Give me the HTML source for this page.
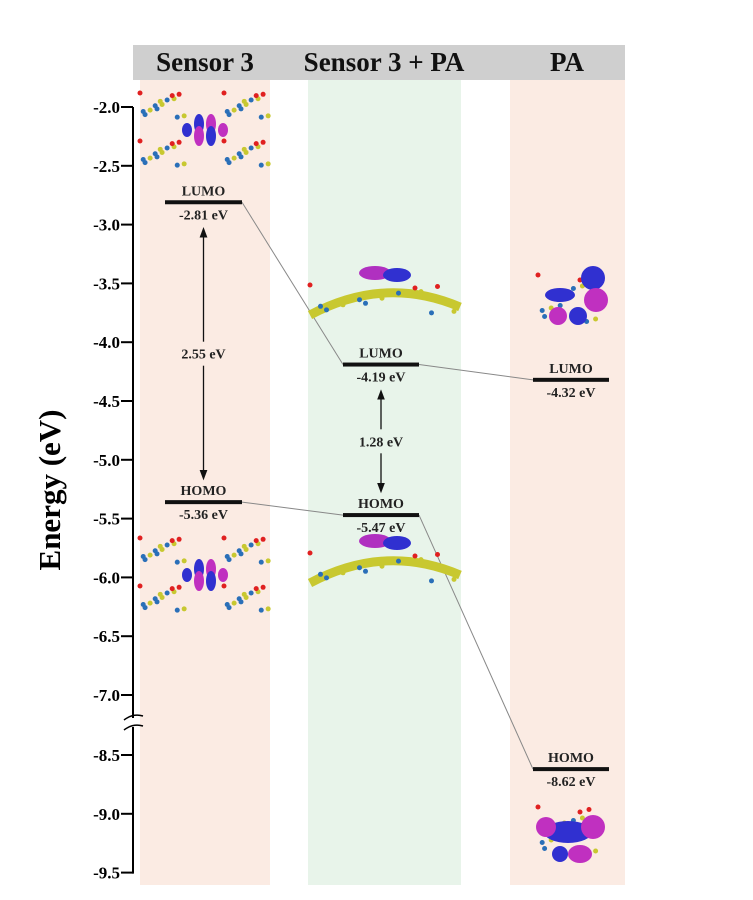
<!DOCTYPE html>
<html><head><meta charset="utf-8">
<style>
html,body{margin:0;padding:0;background:#fff;}
svg{display:block;font-family:"Liberation Serif",serif;}
</style></head>
<body>
<svg id="chart" width="753" height="900" viewBox="0 0 753 900"></svg>
<script>
const columns = ["Sensor 3", "Sensor 3 + PA", "PA"];
const lumoValues = [-2.81, -4.19, -4.32];
const homoValues = [-5.36, -5.47, -8.62];
const gapLabels = ["2.55 eV", "1.28 eV"];
const topTicks = [-2.0, -2.5, -3.0, -3.5, -4.0, -4.5, -5.0, -5.5, -6.0, -6.5, -7.0];
const bottomTicks = [-8.5, -9.0, -9.5];

const NS = "http://www.w3.org/2000/svg";
const svg = document.getElementById("chart");
function mk(tag, attrs, parent) {
  const e = document.createElementNS(NS, tag);
  for (const k in attrs) e.setAttribute(k, attrs[k]);
  (parent || svg).appendChild(e);
  return e;
}
const PER = 117.6;
function yScale(v) {
  if (v >= -7.2) return 107 + (-2 - v) * PER;
  return 755 + (-8.5 - v) * PER;
}
const colX = [[140, 270], [308, 461], [510, 625]];
const colFill = ["#fbebe3", "#e8f4ea", "#fbebe3"];
const lineX = [[165, 242], [343, 419], [533, 609]];

colX.forEach((c, i) => {
  const r = mk("rect", {x: c[0], y: 80, width: c[1] - c[0], height: 805, fill: colFill[i]});
  
  
});
const hb = mk("rect", {x: 133, y: 45, width: 492, height: 35, fill: "#cfcfcf"});


const headerX = [205, 384, 567];
columns.forEach((name, i) => {
  const t = mk("text", {x: headerX[i], y: 71, "text-anchor": "middle", "font-size": 27, "font-weight": "bold", fill: "#111"});
  t.textContent = name;
  
  
});

const ax = mk("g", {});


mk("line", {x1: 133, x2: 133, y1: yScale(-2.0), y2: 718, stroke: "#000", "stroke-width": 2}, ax);
mk("line", {x1: 133, x2: 133, y1: 727, y2: yScale(-9.5) + 1, stroke: "#000", "stroke-width": 2}, ax);
mk("path", {d: "M124 720 Q133 713 143 716 M124 730 Q133 723 143 726", fill: "none", stroke: "#000", "stroke-width": 1.5}, ax);
topTicks.concat(bottomTicks).forEach(v => {
  const y = yScale(v);
  const tk = mk("line", {x1: 121, x2: 133, y1: y, y2: y, stroke: "#000", "stroke-width": 2}, ax);
  
  
  const lb = mk("text", {x: 120, y: y + 6, "text-anchor": "end", "font-size": 17, "font-weight": "bold"}, ax);
  lb.textContent = v.toFixed(1);
  
  
});
const yt = mk("text", {x: 60, y: 490, "text-anchor": "middle", "font-size": 31, "font-weight": "bold", transform: "rotate(-90 60 490)"});
yt.textContent = "Energy (eV)";



for (let i = 0; i < 2; i++) {
  [lumoValues, homoValues].forEach(arr => {
    const c = mk("line", {x1: lineX[i][1], y1: yScale(arr[i]), x2: lineX[i + 1][0], y2: yScale(arr[i + 1]), stroke: "#888", "stroke-width": 1});
    
    
  });
}

function level(i, v, label) {
  const y = yScale(v);
  const g = mk("g", {});
  
  
  mk("rect", {x: lineX[i][0], y: y - 2, width: lineX[i][1] - lineX[i][0], height: 4, fill: "#111"}, g);
  const cx = (lineX[i][0] + lineX[i][1]) / 2;
  const t1 = mk("text", {x: cx, y: y - 7, "text-anchor": "middle", "font-size": 14, "font-weight": "bold", fill: "#222"}, g);
  t1.textContent = label;
  const t2 = mk("text", {x: cx, y: y + 17, "text-anchor": "middle", "font-size": 14, "font-weight": "bold", fill: "#222"}, g);
  t2.textContent = v.toFixed(2) + " eV";
}
for (let i = 0; i < 3; i++) { level(i, lumoValues[i], "LUMO"); level(i, homoValues[i], "HOMO"); }

mk("defs", {}).innerHTML = '<marker id="ah" markerWidth="8" markerHeight="8" refX="4" refY="4" orient="auto-start-reverse"><path d="M0,1 L8,4 L0,7 z" fill="#111"/></marker>';
for (let i = 0; i < 2; i++) {
  const x = (lineX[i][0] + lineX[i][1]) / 2;
  const y1 = yScale(lumoValues[i]) + 30, y2 = yScale(homoValues[i]) - 27;
  const mid = (y1 + y2) / 2;
  const g = mk("g", {});
  
  
  mk("line", {x1: x, x2: x, y1: mid - 12, y2: y1, stroke: "#111", "stroke-width": 1.3, "marker-end": "url(#ah)"}, g);
  mk("line", {x1: x, x2: x, y1: mid + 12, y2: y2, stroke: "#111", "stroke-width": 1.3, "marker-end": "url(#ah)"}, g);
  const t = mk("text", {x: x, y: mid + 5, "text-anchor": "middle", "font-size": 14, "font-weight": "bold", fill: "#222"}, g);
  t.textContent = gapLabels[i];
}

function blob(g, cx, cy, rx, ry, c) { mk("ellipse", {cx, cy, rx, ry, fill: c}, g); }
function atoms(g, cx, cy, w, h) {
  for (let a = 0; a < 14; a++) {
    const px = cx - w / 2 + (a * 37 % 100) / 100 * w, py = cy - h / 2 + (a * 61 % 100) / 100 * h;
    mk("circle", {cx: px, cy: py, r: 2.5, fill: a % 5 === 0 ? "#e02020" : (a % 2 ? "#2a6fb8" : "#c8c830")}, g);
  }
}
function porph(cx, cy, name) {
  const g = mk("g", {});
  
  
  [[-1,-1],[1,-1],[-1,1],[1,1]].forEach(([sx, sy]) => atoms(g, cx + sx * 42, cy + sy * 24, 46, 26));
  blob(g, cx - 6, cy - 6, 5, 10, "#3030d0"); blob(g, cx + 6, cy - 6, 5, 10, "#c030c0");
  blob(g, cx - 6, cy + 6, 5, 10, "#c030c0"); blob(g, cx + 6, cy + 6, 5, 10, "#3030d0");
  blob(g, cx - 18, cy, 5, 7, "#3030d0"); blob(g, cx + 18, cy, 5, 7, "#c030c0");
}
porph(205, 130, "sensor3-lumo-orbital");
porph(205, 575, "sensor3-homo-orbital");
function complex(cx, cy, name) {
  const g = mk("g", {});
  
  
  mk("path", {d: `M${cx-75} ${cy+20} Q${cx} ${cy-20} ${cx+75} ${cy+12}`, stroke: "#c8c830", "stroke-width": 9, fill: "none"}, g);
  atoms(g, cx, cy + 5, 150, 30);
  blob(g, cx - 10, cy - 22, 16, 7, "#b030c0"); blob(g, cx + 12, cy - 20, 14, 7, "#3030d0");
}
complex(385, 295, "complex-lumo-orbital");
complex(385, 563, "complex-homo-orbital");
function pa(cx, cy, name, homo) {
  const g = mk("g", {});
  
  
  atoms(g, cx, cy, 60, 50);
  if (!homo) {
    blob(g, cx + 25, cy - 22, 12, 12, "#3030d0"); blob(g, cx + 28, cy, 12, 12, "#c030c0");
    blob(g, cx - 8, cy - 5, 15, 7, "#3030d0"); blob(g, cx - 10, cy + 16, 9, 9, "#c030c0"); blob(g, cx + 10, cy + 16, 9, 9, "#3030d0");
  } else {
    blob(g, cx, cy + 0, 24, 11, "#3030d0"); blob(g, cx - 22, cy - 5, 10, 10, "#c030c0");
    blob(g, cx + 25, cy - 5, 12, 12, "#c030c0"); blob(g, cx + 12, cy + 22, 12, 9, "#c030c0"); blob(g, cx - 8, cy + 22, 8, 8, "#3030d0");
  }
}
pa(568, 300, "pa-lumo-orbital", false);
pa(568, 832, "pa-homo-orbital", true);
</script>
</body></html>
